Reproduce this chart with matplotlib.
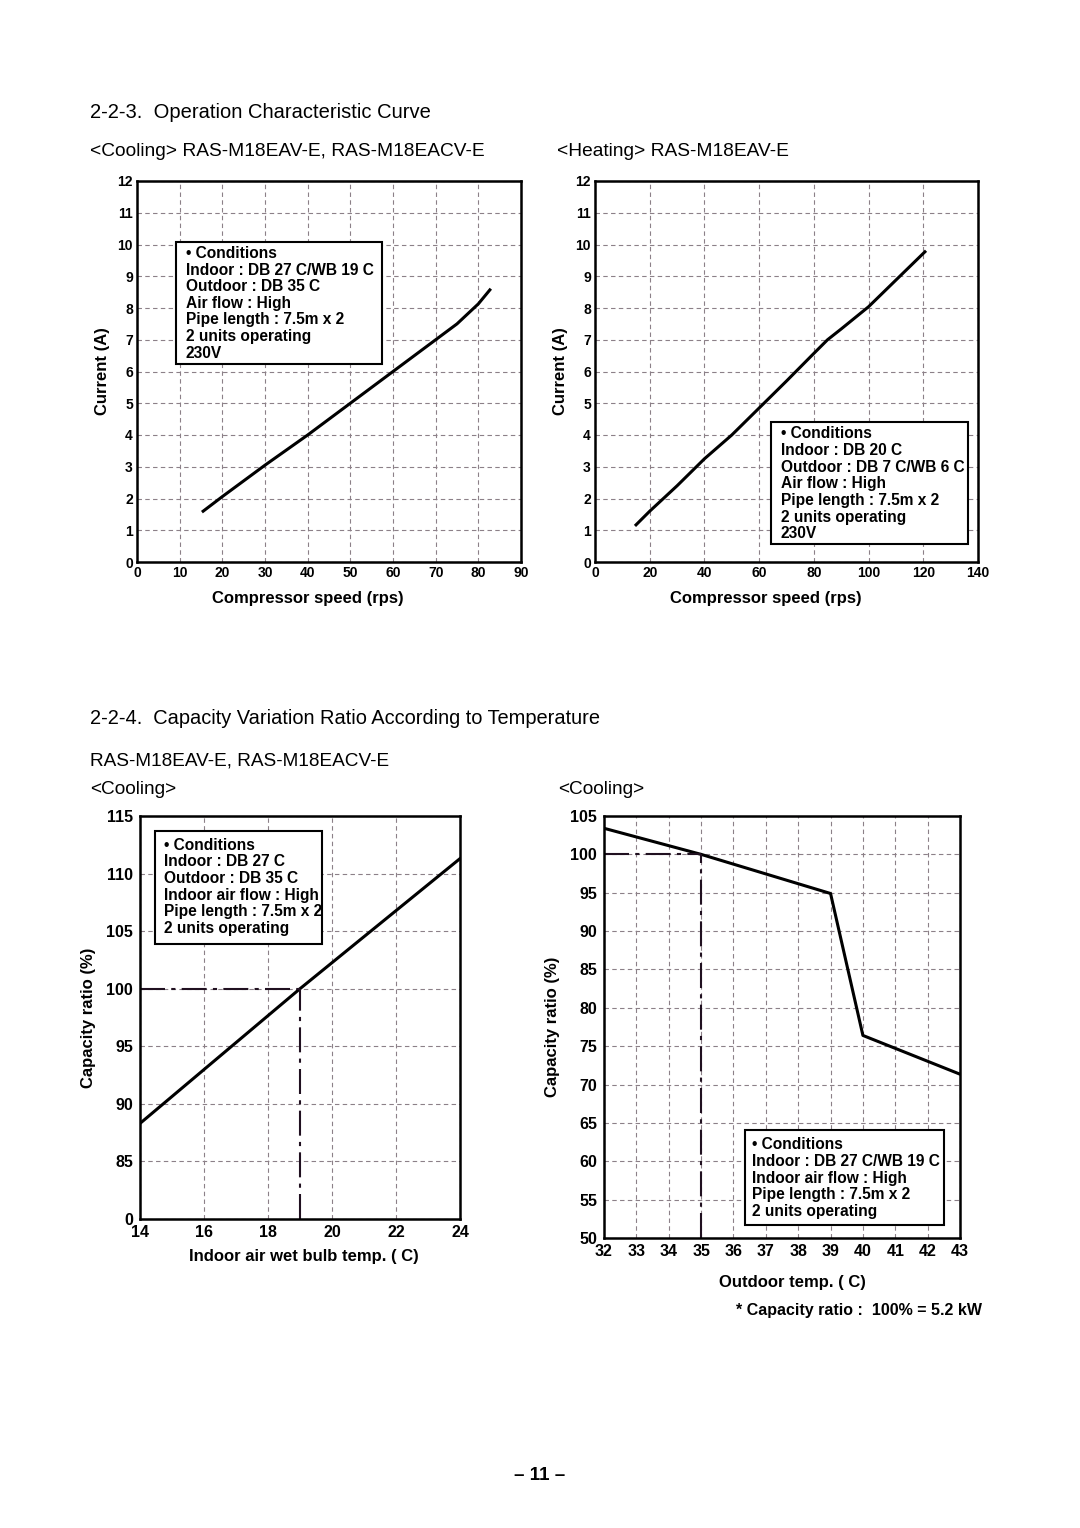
import numpy as np
import matplotlib.pyplot as plt
from matplotlib.patches import Rectangle

# Global plot parameters
# -----------------------------------------------------------
plt.rcParams['font.family'] = ['Liberation Sans', 'DejaVu Sans']
plt.rcParams['axes.linewidth'] = 1.8
plt.rcParams['xtick.major.size'] = 0
plt.rcParams['ytick.major.size'] = 0

# data
# -----------------------------------------------------------
cool_speed = [15.5, 20, 30, 40, 50, 60, 70, 75, 80, 82.7]
cool_current = [1.6, 2.06, 3.05, 4.0, 5.0, 6.0, 7.0, 7.5, 8.13, 8.57]

heat_speed = [15, 20, 30, 40, 50, 60, 70, 80, 85, 90, 100, 110, 120.6]
heat_current = [1.17, 1.6, 2.4, 3.25, 4.0, 4.85, 5.7, 6.57, 7.0, 7.34, 8.04, 8.88, 9.77]

wb_temp = [14, 19, 24]
wb_ratio = [88.3, 100, 111.3]

out_temp = [32, 35, 39, 40, 43]
out_ratio = [103.4, 100, 94.9, 76.4, 71.35]

cool_xticks = list(range(0, 91, 10))
heat_xticks = list(range(0, 141, 20))
current_yticks = list(range(0, 13))
wb_xticks = [14, 16, 18, 20, 22, 24]
wb_yticks = [80, 85, 90, 95, 100, 105, 110, 115]
wb_yticklabels = ['0', '85', '90', '95', '100', '105', '110', '115']
out_xticks = list(range(32, 44))
out_yticks = list(range(50, 106, 5))

cond_cool = ['• Conditions', 'Indoor : DB 27 C/WB 19 C', 'Outdoor : DB 35 C',
             'Air flow : High', 'Pipe length : 7.5m x 2', '2 units operating', '230V']
cond_heat = ['• Conditions', 'Indoor : DB 20 C', 'Outdoor : DB 7 C/WB 6 C',
             'Air flow : High', 'Pipe length : 7.5m x 2', '2 units operating', '230V']
cond_wb = ['• Conditions', 'Indoor : DB 27 C', 'Outdoor : DB 35 C',
           'Indoor air flow : High', 'Pipe length : 7.5m x 2', '2 units operating']
cond_out = ['• Conditions', 'Indoor : DB 27 C/WB 19 C', 'Indoor air flow : High',
            'Pipe length : 7.5m x 2', '2 units operating']

W, H = 1080, 1528
GRID = '#8c8088'
REF = '#201020'
DASHDOT = (0, (12, 3, 2, 3))


def px_axes(fig, x0, y0, x1, y1):
    return fig.add_axes([x0 / W, 1 - y1 / H, (x1 - x0) / W, (y1 - y0) / H])


def style(ax, fs, ypad=3, xpad=3):
    ax.grid(True, color=GRID, linestyle=(0, (4, 3)), linewidth=0.8)
    ax.tick_params(axis='x', labelsize=fs, pad=xpad)
    ax.tick_params(axis='y', labelsize=fs, pad=ypad)
    for lab in ax.get_xticklabels() + ax.get_yticklabels():
        lab.set_fontweight('bold')


def cond_box(ax, lines, x0, y0, x1, y1, tx, ty, dy, fs):
    # x0..x1, y0..y1 in axes fraction; ty = first line centre, dy = line step
    ax.add_patch(Rectangle((x0, y0), x1 - x0, y1 - y0, transform=ax.transAxes,
                           facecolor='white', edgecolor='black', linewidth=1.5,
                           zorder=5, clip_on=False))
    for i, s in enumerate(lines):
        ax.text(tx, ty - i * dy, s, transform=ax.transAxes, fontsize=fs,
                fontweight='bold', ha='left', va='center', zorder=6)


fig = plt.figure(figsize=(W / 100, H / 100), dpi=100)

# headings
fig.text(90 / W, 1 - 112 / H, '2-2-3.  Operation Characteristic Curve', fontsize=14.5, va='center')
fig.text(90 / W, 1 - 152 / H, '<Cooling> RAS-M18EAV-E, RAS-M18EACV-E', fontsize=13.8, va='center')
fig.text(557 / W, 1 - 152 / H, '<Heating> RAS-M18EAV-E', fontsize=13.8, va='center')
fig.text(90 / W, 1 - 719 / H, '2-2-4.  Capacity Variation Ratio According to Temperature',
         fontsize=14.4, va='center')
fig.text(90 / W, 1 - 761 / H, 'RAS-M18EAV-E, RAS-M18EACV-E', fontsize=13.7, va='center')
fig.text(90 / W, 1 - 789 / H, '<Cooling>', fontsize=13.7, va='center')
fig.text(558 / W, 1 - 789 / H, '<Cooling>', fontsize=13.7, va='center')
fig.text(982 / W, 1 - 1310 / H, '* Capacity ratio :  100% = 5.2 kW', fontsize=11.5,
         fontweight='bold', ha='right', va='center')
fig.text(540 / W, 1 - 1475 / H, '– 11 –', fontsize=13.5, fontweight='bold', ha='center', va='center')

# cooling current
ax1 = px_axes(fig, 137, 181, 521, 562)
ax1.plot(cool_speed, cool_current, color='black', linewidth=2.2)
ax1.set_xlim(0, 90)
ax1.set_ylim(0, 12)
ax1.set_xticks(cool_xticks)
ax1.set_yticks(current_yticks)
style(ax1, 10)
ax1.set_xlabel('Compressor speed (rps)', fontsize=12, fontweight='bold', labelpad=8)
ax1.xaxis.label.set_x(0.445)
ax1.set_ylabel('Current (A)', fontsize=12, fontweight='bold', labelpad=5)
cond_box(ax1, cond_cool, 0.1016, 0.52, 0.638, 0.84, 0.127, 0.81, 0.0437, 11.2)

# heating current
ax2 = px_axes(fig, 595, 181, 978, 562)
ax2.plot(heat_speed, heat_current, color='black', linewidth=2.2)
ax2.set_xlim(0, 140)
ax2.set_ylim(0, 12)
ax2.set_xticks(heat_xticks)
ax2.set_yticks(current_yticks)
style(ax2, 10)
ax2.set_xlabel('Compressor speed (rps)', fontsize=12, fontweight='bold', labelpad=8)
ax2.xaxis.label.set_x(0.446)
ax2.set_ylabel('Current (A)', fontsize=12, fontweight='bold', labelpad=5)
cond_box(ax2, cond_heat, 0.4587, 0.047, 0.9747, 0.3667, 0.485, 0.336, 0.0437, 11.2)

# capacity vs indoor wet bulb
ax3 = px_axes(fig, 140, 816, 460, 1219)
ax3.plot(wb_temp, wb_ratio, color='black', linewidth=2.2)
ax3.plot([wb_temp[0], wb_temp[1]], [100, 100], color=REF, linewidth=1.5, linestyle=DASHDOT)
ax3.plot([wb_temp[1], wb_temp[1]], [wb_yticks[0], 100], color=REF, linewidth=1.5,
         linestyle=DASHDOT)
ax3.set_xlim(14, 24)
ax3.set_ylim(80, 115)
ax3.set_xticks(wb_xticks)
ax3.set_yticks(wb_yticks)
ax3.set_yticklabels(wb_yticklabels)
style(ax3, 11.5, ypad=5, xpad=4)
ax3.set_xlabel('Indoor air wet bulb temp. ( C)', fontsize=12, fontweight='bold', labelpad=7)
ax3.xaxis.label.set_x(0.512)
ax3.set_ylabel('Capacity ratio (%)', fontsize=12, fontweight='bold', labelpad=7)
cond_box(ax3, cond_wb, 0.047, 0.682, 0.57, 0.963, 0.075, 0.928, 0.0414, 11.2)

# capacity vs outdoor temp
ax4 = px_axes(fig, 604, 816, 960, 1238)
ax4.plot(out_temp, out_ratio, color='black', linewidth=2.2)
ax4.plot([out_temp[0], out_temp[1]], [100, 100], color=REF, linewidth=1.5, linestyle=DASHDOT)
ax4.plot([out_temp[1], out_temp[1]], [out_yticks[0], 100], color=REF, linewidth=1.5,
         linestyle=DASHDOT)
ax4.set_xlim(32, 43)
ax4.set_ylim(50, 105)
ax4.set_xticks(out_xticks)
ax4.set_yticks(out_yticks)
style(ax4, 11.5, ypad=5, xpad=4)
ax4.set_xlabel('Outdoor temp. ( C)', fontsize=12, fontweight='bold', labelpad=12)
ax4.xaxis.label.set_x(0.528)
ax4.set_ylabel('Capacity ratio (%)', fontsize=12, fontweight='bold', labelpad=7)
cond_box(ax4, cond_out, 0.3956, 0.030, 0.955, 0.2554, 0.417, 0.221, 0.0395, 11.2)

plt.savefig('out.png', dpi=100)
